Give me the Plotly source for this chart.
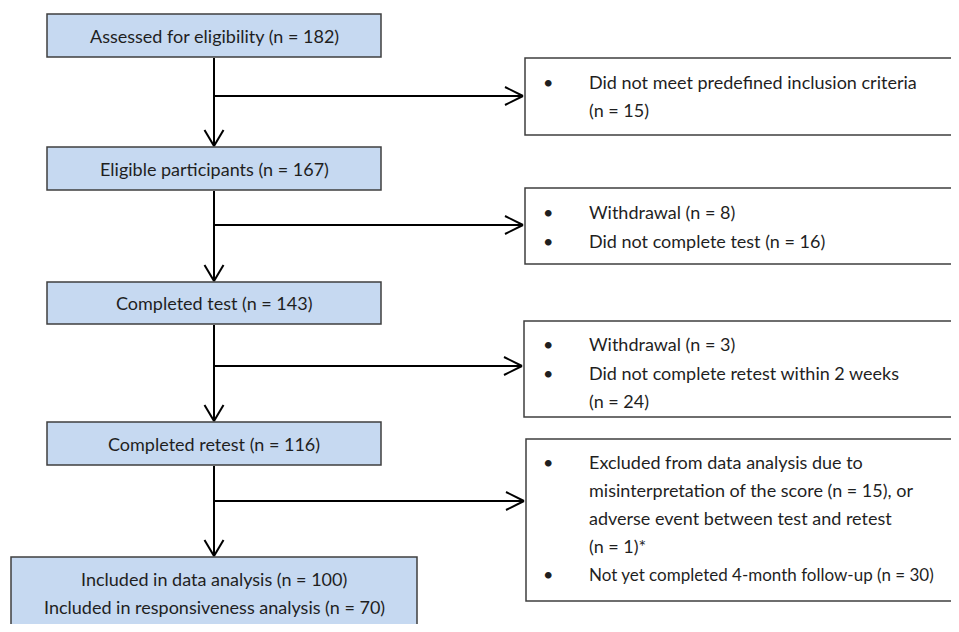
import plotly.graph_objects as go

# ---- content ----
stage_labels = [
    "Assessed for eligibility",
    "Eligible participants",
    "Completed test",
    "Completed retest",
    "Included in data analysis",
]
stage_counts = [182, 167, 143, 116, 100]
final_extra_label = "Included in responsiveness analysis"
final_extra_count = 70

exclusion_lines = [
    [("•", "Did not meet predefined inclusion criteria"), ("", "(n = 15)")],
    [("•", "Withdrawal (n = 8)"), ("•", "Did not complete test (n = 16)")],
    [("•", "Withdrawal (n = 3)"), ("•", "Did not complete retest within 2 weeks"), ("", "(n = 24)")],
    [("•", "Excluded from data analysis due to"),
     ("", "misinterpretation of the score (n = 15), or"),
     ("", "adverse event between test and retest"),
     ("", "(n = 1)*"),
     ("•", "Not yet completed 4-month follow-up (n = 30)")],
]

# ---- layout geometry (page pixels, y downward) ----
PAGE_W, PAGE_H = 959, 632
OFF = 8  # default page body margin
W, H = PAGE_W - 2 * OFF, PAGE_H - 2 * OFF
main_boxes = [(47, 14, 381, 57), (47, 147, 381, 190), (47, 282, 381, 324),
              (47, 422, 381, 465), (11, 557, 417, 645)]
side_boxes = [(525, 58, 975, 135), (525, 188, 975, 264),
              (524, 321, 975, 417), (526, 439, 975, 601)]
branch_y = [96, 225, 366, 501]
side_line_y = [[82, 110], [212, 241], [344, 373, 401], [462, 490, 518, 546, 574]]
final_line_y = [579, 607]
cx = 214
bullet_x, text_x = 548, 587

FILL = "#C6D9F1"
EDGE = "#3F3F3F"
FAMILY = "Lato, 'Open Sans', sans-serif"
FONT = dict(family=FAMILY, size=18, color="#1f1f1f")
FONT_NARROW = dict(family=FAMILY, size=17, color="#1f1f1f")

fig = go.Figure()
shapes, annotations = [], []

for (x0, y0, x1, y1) in main_boxes:
    shapes.append(dict(type="rect", x0=x0, y0=y0, x1=x1, y1=y1,
                       fillcolor=FILL, line=dict(color=EDGE, width=1.5), layer="below"))
for (x0, y0, x1, y1) in side_boxes:
    shapes.append(dict(type="rect", x0=x0, y0=y0, x1=x1, y1=y1,
                       fillcolor="white", line=dict(color=EDGE, width=1.5), layer="below"))

def line(x0, y0, x1, y1):
    shapes.append(dict(type="line", x0=x0, y0=y0, x1=x1, y1=y1,
                       line=dict(color="black", width=2)))

for i in range(4):
    top = main_boxes[i][3] + 1
    tip = main_boxes[i + 1][1] - 1
    line(cx, top, cx, tip)
    line(cx - 9.5, tip - 16, cx, tip)
    line(cx + 9.5, tip - 16, cx, tip)
    by = branch_y[i]
    tipx = side_boxes[i][0] - 2
    line(cx, by, tipx, by)
    line(tipx - 18, by - 9, tipx, by)
    line(tipx - 18, by + 9, tipx, by)

for i in range(4):
    (x0, y0, x1, y1) = main_boxes[i]
    annotations.append(dict(x=(x0 + x1) / 2, y=(y0 + y1) / 2,
                            text=f"{stage_labels[i]} (n = {stage_counts[i]})",
                            showarrow=False, xanchor="center", yanchor="middle", font=FONT))
final_texts = [f"{stage_labels[4]} (n = {stage_counts[4]})",
               f"{final_extra_label} (n = {final_extra_count})"]
for t, y in zip(final_texts, final_line_y):
    annotations.append(dict(x=cx, y=y, text=t, showarrow=False,
                            xanchor="center", yanchor="middle", font=FONT))

for lines, ys in zip(exclusion_lines, side_line_y):
    for (b, t), y in zip(lines, ys):
        if b:
            annotations.append(dict(x=bullet_x, y=y, text=b, showarrow=False,
                                    xanchor="center", yanchor="middle", font=FONT))
        f = FONT_NARROW if len(t) > 43 else FONT
        annotations.append(dict(x=text_x, y=y, text=t, showarrow=False,
                                xanchor="left", yanchor="middle", font=f))

fig.update_layout(
    width=W, height=H, margin=dict(l=0, r=0, t=0, b=0),
    paper_bgcolor="white", plot_bgcolor="white",
    xaxis=dict(range=[OFF, OFF + W], visible=False, fixedrange=True),
    yaxis=dict(range=[OFF + H, OFF], visible=False, fixedrange=True),
    shapes=shapes, annotations=annotations, showlegend=False,
)

fig.write_html("out.html")
